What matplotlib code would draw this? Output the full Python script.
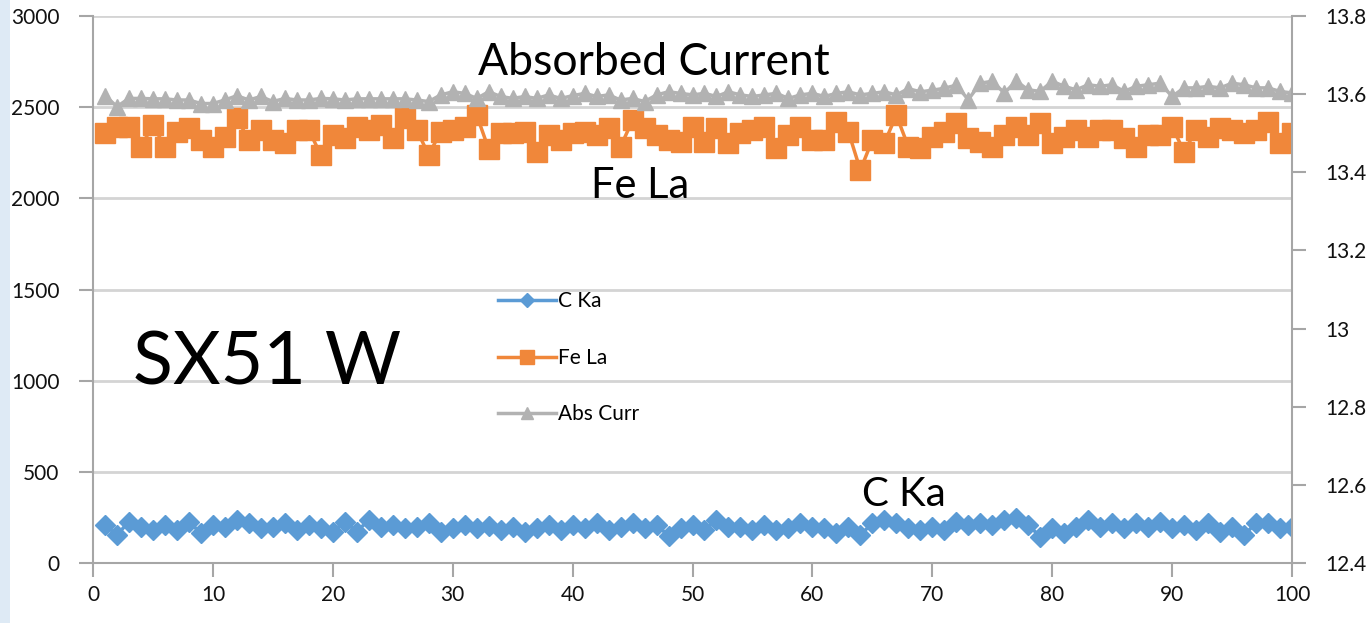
import numpy as np
import matplotlib.pyplot as plt
from matplotlib.ticker import FuncFormatter
from matplotlib.patches import Rectangle

plt.rcParams['font.family'] = ['Lato', 'DejaVu Sans']

x = np.arange(1, 101)

c_ka = [208, 154, 227, 199, 181, 208, 181, 227, 163, 208,
        199, 236, 218, 190, 199, 218, 181, 208, 190, 172,
        227, 172, 236, 199, 208, 190, 199, 218, 172, 190,
        208, 190, 204, 181, 199, 172, 190, 208, 181, 208,
        190, 218, 181, 199, 218, 190, 208, 150, 190, 208,
        181, 236, 199, 199, 181, 208, 181, 190, 218, 199,
        190, 163, 199, 154, 218, 236, 222, 190, 181, 199,
        181, 227, 208, 218, 208, 236, 245, 208, 145, 190,
        163, 199, 236, 199, 218, 190, 218, 199, 227, 190,
        208, 181, 218, 172, 199, 154, 218, 218, 190, 199]

fe_la = [2357, 2393, 2393, 2283, 2402, 2283, 2366, 2384, 2320, 2283,
         2338, 2439, 2320, 2375, 2320, 2302, 2375, 2375, 2238, 2348,
         2329, 2393, 2375, 2402, 2329, 2439, 2375, 2238, 2366, 2375,
         2393, 2457, 2270, 2357, 2357, 2366, 2256, 2348, 2320, 2357,
         2366, 2348, 2384, 2283, 2429, 2384, 2348, 2320, 2311, 2393,
         2311, 2384, 2302, 2357, 2375, 2393, 2274, 2348, 2393, 2320,
         2320, 2421, 2366, 2155, 2320, 2302, 2457, 2283, 2274, 2338,
         2366, 2411, 2329, 2311, 2283, 2348, 2393, 2348, 2411, 2302,
         2338, 2375, 2338, 2375, 2375, 2329, 2283, 2348, 2348, 2393,
         2256, 2375, 2338, 2384, 2375, 2357, 2375, 2421, 2302, 2357]

abs_curr = [13.596, 13.568, 13.589, 13.589, 13.588, 13.588, 13.585, 13.585, 13.576, 13.576,
            13.585, 13.596, 13.585, 13.594, 13.581, 13.589, 13.585, 13.585, 13.589, 13.588,
            13.585, 13.588, 13.588, 13.588, 13.588, 13.588, 13.585, 13.581, 13.598, 13.606,
            13.602, 13.589, 13.606, 13.594, 13.589, 13.594, 13.589, 13.598, 13.589, 13.596,
            13.602, 13.594, 13.598, 13.585, 13.589, 13.581, 13.598, 13.606, 13.602, 13.598,
            13.602, 13.594, 13.606, 13.598, 13.594, 13.598, 13.602, 13.589, 13.598, 13.602,
            13.594, 13.602, 13.606, 13.598, 13.602, 13.606, 13.598, 13.614, 13.606, 13.610,
            13.615, 13.623, 13.586, 13.628, 13.633, 13.603, 13.633, 13.611, 13.607, 13.633,
            13.620, 13.611, 13.624, 13.620, 13.624, 13.607, 13.620, 13.624, 13.628, 13.594,
            13.616, 13.616, 13.620, 13.616, 13.628, 13.624, 13.616, 13.616, 13.607, 13.603]

left_ticks = [0, 500, 1000, 1500, 2000, 2500, 3000]
right_ticks = [12.4, 12.6, 12.8, 13.0, 13.2, 13.4, 13.6, 13.8]
x_ticks = list(range(0, 101, 10))

blue = '#5b9bd5'
orange = '#f0873a'
gray = '#b2b2b2'
axis_gray = '#a6a6a6'
grid_gray = '#d4d4d4'

fig = plt.figure(figsize=(13.67, 6.23), dpi=100)
fig.patches.append(Rectangle((0, 0), 10 / 1367, 1, transform=fig.transFigure,
                             facecolor='#deeaf5', edgecolor='none'))
ax = fig.add_axes([93 / 1367, 60 / 623, 1199 / 1367, 547 / 623])

ax.plot(x, c_ka, color=blue, lw=2.5, marker='D', ms=10, label='C Ka')
ax.plot(x, fe_la, color=orange, lw=2.5, marker='s', ms=14, label='Fe La')

ax.set_xlim(0, 100)
ax.set_ylim(0, 3000)
ax.set_xticks(x_ticks)
ax.set_yticks(left_ticks)
ax.yaxis.grid(True, color=grid_gray, lw=2)
ax.set_axisbelow(True)

ax2 = ax.twinx()
ax2.plot(x, abs_curr, color=gray, lw=2.5, marker='^', ms=12, label='Abs Curr')
ax2.set_ylim(12.4, 13.8)
ax2.set_yticks(right_ticks)
ax2.yaxis.set_major_formatter(FuncFormatter(lambda v, p: '%g' % round(v, 1)))

for a in (ax, ax2):
    a.spines['top'].set_visible(False)
    for s in a.spines.values():
        s.set_color(axis_gray)
        s.set_linewidth(1.5)
    a.tick_params(colors=axis_gray, width=1.5, length=10, pad=14, labelsize=15,
                  labelcolor='#111111')
ax.tick_params(axis='x', pad=6)
ax.spines['right'].set_visible(False)
ax2.spines['left'].set_visible(False)
ax2.spines['bottom'].set_visible(False)

ax.annotate('Absorbed Current', xy=(46.8, 2745), ha='center', va='center',
            fontsize=32, color='black')
ax.annotate('Fe La', xy=(45.6, 2065), ha='center', va='center',
            fontsize=30, color='black')
ax.annotate('C Ka', xy=(67.6, 375), ha='center', va='center',
            fontsize=29, color='black')
ax.annotate('SX51 W', xy=(3.3, 1090), ha='left', va='center',
            fontsize=53, color='black')

h1, l1 = ax.get_legend_handles_labels()
h2, l2 = ax2.get_legend_handles_labels()
ax2.legend(h1 + h2, l1 + l2, loc='center left', bbox_to_anchor=(0.322, 0.375),
           frameon=False, fontsize=15, handlelength=2.8, labelspacing=1.75,
           markerscale=0.7, handletextpad=0.1)

fig.savefig('out.png', dpi=100)
